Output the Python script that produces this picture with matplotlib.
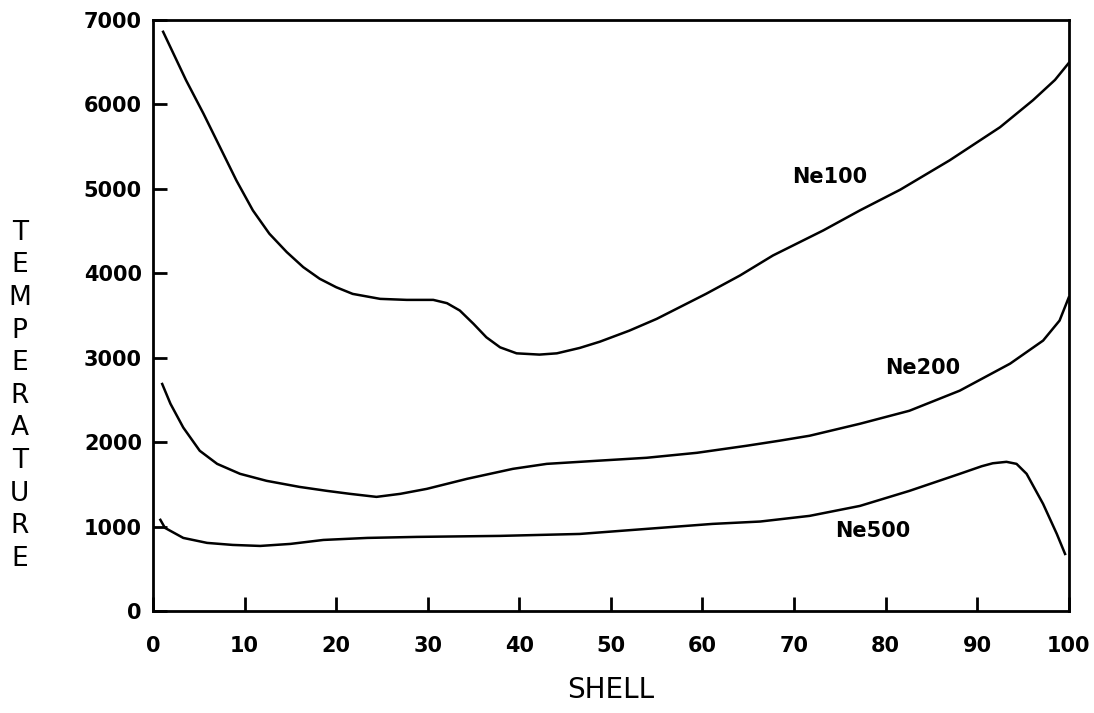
import numpy as np
import matplotlib.pyplot as plt

# values
shell_ne100 = [1.1, 3.6, 5.5, 7.3, 9.1, 10.9, 12.7, 14.6, 16.4, 18.2, 20.0, 21.8,
               24.8, 27.7, 30.6, 32.1, 33.5, 35.0, 36.4, 37.9, 39.7, 42.2, 44.1,
               46.6, 48.8, 52.0, 55.0, 60.4, 64.1, 67.7, 73.2, 77.2, 81.6, 87.0,
               92.5, 96.1, 98.5, 100]
temp_ne100 = [6860, 6287, 5892, 5496, 5100, 4745, 4469, 4251, 4073, 3935, 3835,
              3756, 3697, 3685, 3685, 3646, 3559, 3401, 3242, 3123, 3052, 3037,
              3052, 3116, 3190, 3320, 3460, 3757, 3974, 4211, 4508, 4745, 4990,
              5338, 5730, 6050, 6290, 6490]

shell_ne200 = [1, 1.9, 3.3, 5.1, 7.0, 9.5, 12.4, 16.0, 19.0, 21.5, 24.4, 27,
               29.9, 34.3, 39.3, 43, 48.4, 53.9, 59.4, 64.8, 68.4, 71.7, 77.2,
               82.6, 88.1, 93.6, 97.2, 99.0, 100]
temp_ne200 = [2689, 2455, 2173, 1898, 1743, 1625, 1542, 1470, 1423, 1388, 1352,
              1388, 1447, 1566, 1684, 1743, 1779, 1815, 1874, 1957, 2017, 2076,
              2218, 2372, 2610, 2930, 3203, 3440, 3713]

shell_ne500 = [0.8, 1.3, 3.3, 5.9, 8.7, 11.7, 15, 18.6, 23.4, 28.8, 37.9, 46.6,
               53.9, 61.1, 66.3, 71.7, 77.2, 82.6, 88.1, 90.5, 91.7, 93.2, 94.3,
               95.4, 97.2, 98.7, 99.6]
temp_ne500 = [1080, 985, 866, 807, 783, 771, 795, 842, 866, 878, 890, 913, 973,
              1032, 1060, 1127, 1245, 1423, 1625, 1715, 1750, 1767, 1743, 1625,
              1269, 913, 676]

x_ticks = list(range(0, 101, 10))
y_ticks = list(range(0, 7001, 1000))

plt.rcParams['font.family'] = 'DejaVu Sans'
fig = plt.figure(figsize=(10.94, 7.13), dpi=100)
ax = fig.add_axes([0.1399, 0.143, 0.837, 0.829])

for s, t in [(shell_ne100, temp_ne100), (shell_ne200, temp_ne200), (shell_ne500, temp_ne500)]:
    ax.plot(s, t, c='black', lw=1.8, solid_joinstyle='round')

ax.set_xlim(0, 100)
ax.set_ylim(0, 7000)
ax.set_xticks(x_ticks)
ax.set_yticks(y_ticks)
ax.tick_params(direction='in', length=10, width=2, labelsize=15, colors='black')
ax.tick_params(axis='x', pad=18)
ax.tick_params(axis='y', pad=8)
for lbl in ax.get_xticklabels() + ax.get_yticklabels():
    lbl.set_fontweight('semibold')
for sp in ax.spines.values():
    sp.set_linewidth(2)

ax.text(73.9, 5140, 'Ne100', ha='center', va='center', fontsize=15, fontweight='semibold')
ax.text(84, 2880, 'Ne200', ha='center', va='center', fontsize=15, fontweight='semibold')
ax.text(78.6, 950, 'Ne500', ha='center', va='center', fontsize=15, fontweight='semibold')

fig.text(0.018, 0.445, '\n'.join('TEMPERATURE'), ha='center', va='center',
         fontsize=19, linespacing=1.33, fontweight='medium')
fig.text(0.558, 0.032, 'SHELL', ha='center', va='center', fontsize=20, fontweight='medium')

fig.savefig('out.png', dpi=100)
